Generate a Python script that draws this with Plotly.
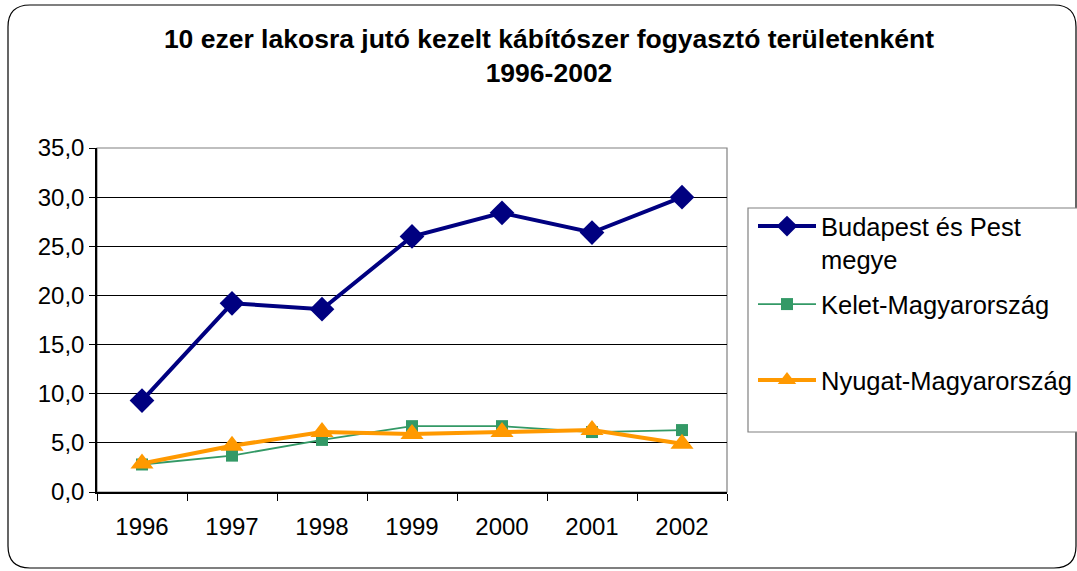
import plotly.graph_objects as go

years = ["1996", "1997", "1998", "1999", "2000", "2001", "2002"]
budapest = [9.3, 19.2, 18.6, 26.0, 28.4, 26.4, 30.0]
kelet = [2.8, 3.7, 5.3, 6.7, 6.7, 6.1, 6.3]
nyugat = [2.9, 4.7, 6.1, 5.9, 6.1, 6.3, 4.9]
names = ["Budapest és Pest<br>megye", "Kelet-Magyarország", "Nyugat-Magyarország"]
title_text = "<b>10 ezer lakosra jutó kezelt kábítószer fogyasztó területenként<br>1996-2002</b>"

W, H = 1077, 571
L, R, T, B = 97, 727, 148, 492
FONT = "Arial, Liberation Sans, sans-serif"

def px(x):
    return (x - L) / (R - L)

def py(y):
    return (B - y) / (B - T)

fig = go.Figure()
fig.add_trace(go.Scatter(
    x=years, y=budapest, name=names[0], mode="lines+markers",
    line=dict(color="#000080", width=4),
    marker=dict(symbol="diamond", size=19, color="#000080"),
    legend="legend",
))
fig.add_trace(go.Scatter(
    x=years, y=kelet, name=names[1], mode="lines+markers",
    line=dict(color="#339966", width=1.8),
    marker=dict(symbol="square", size=12, color="#339966"),
    legend="legend2",
))
fig.add_trace(go.Scatter(
    x=years, y=nyugat, name=names[2], mode="lines+markers",
    line=dict(color="#FF9900", width=4),
    marker=dict(symbol="triangle-up", size=20, color="#FF9900"),
    legend="legend3",
))

# rounded outer frame
x0, y0, x1, y1, r = 8, 5, 1076, 568, 22
frame = (f"M {px(x0+r)},{py(y0)} L {px(x1-r)},{py(y0)} Q {px(x1)},{py(y0)} {px(x1)},{py(y0+r)} "
         f"L {px(x1)},{py(y1-r)} Q {px(x1)},{py(y1)} {px(x1-r)},{py(y1)} "
         f"L {px(x0+r)},{py(y1)} Q {px(x0)},{py(y1)} {px(x0)},{py(y1-r)} "
         f"L {px(x0)},{py(y0+r)} Q {px(x0)},{py(y0)} {px(x0+r)},{py(y0)} Z")

shapes = [
    dict(type="path", path=frame, xref="paper", yref="paper",
         line=dict(color="#000000", width=1.2), layer="below"),
    dict(type="rect", xref="paper", yref="paper", x0=0, x1=1, y0=0, y1=1,
         line=dict(color="#808080", width=1.2), layer="below"),
    dict(type="rect", xref="paper", yref="paper", x0=px(748), x1=px(1090),
         y0=py(432), y1=py(208), line=dict(color="#808080", width=1.2),
         fillcolor="white", layer="below"),
]

leg_common = dict(font=dict(family=FONT, size=25.5, color="#000000"),
                  bgcolor="rgba(0,0,0,0)", borderwidth=0,
                  xref="container", yref="container",
                  xanchor="left", yanchor="top", itemwidth=58,
                  valign="top", tracegroupgap=0)

fig.update_layout(
    width=W, height=H, autosize=False,
    margin=dict(l=L, r=W - R, t=T, b=H - B),
    paper_bgcolor="white", plot_bgcolor="white",
    separators=", ",
    font=dict(family=FONT, size=24, color="#000000"),
    title=dict(text=title_text, x=549 / W, xanchor="center", xref="container",
               y=1 - 48 / H, yanchor="top", yref="container",
               font=dict(family=FONT, size=26.5, color="#000000")),
    showlegend=True,
    legend=dict(x=753 / W, y=1 - 203 / H, **leg_common),
    legend2=dict(x=753 / W, y=1 - 281 / H, **leg_common),
    legend3=dict(x=753 / W, y=1 - 357 / H, **leg_common),
    shapes=shapes,
    xaxis=dict(type="category", range=[-0.5, 6.5], tickson="boundaries",
               showgrid=False, showline=True, linecolor="#000000", linewidth=1.5,
               ticks="outside", ticklen=7, tickcolor="#000000", ticklabelstandoff=12,
               tickfont=dict(family=FONT, size=24), zeroline=False),
    yaxis=dict(range=[0, 35], dtick=5, tickformat=".1f",
               showgrid=True, gridcolor="#000000", gridwidth=1,
               showline=True, linecolor="#000000", linewidth=1.5,
               ticks="outside", ticklen=6, tickcolor="#000000",
               tickfont=dict(family=FONT, size=24), zeroline=False),
)

fig.write_html("out.html", config={"displayModeBar": False},
               post_script="document.body.style.margin='0';document.body.style.overflow='hidden';")
